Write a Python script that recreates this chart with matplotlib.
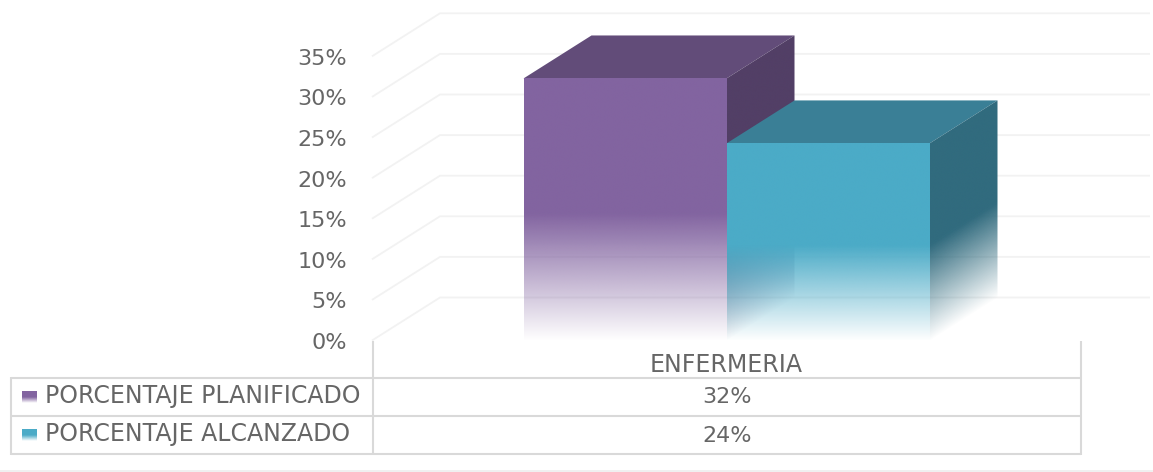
import numpy as np
import matplotlib
matplotlib.use("Agg")
import matplotlib.pyplot as plt
from matplotlib.patches import Polygon

# ---------- data ----------
categories = ["ENFERMERIA"]
series_names = ["PORCENTAJE PLANIFICADO", "PORCENTAJE ALCANZADO"]
planificado = [32]
alcanzado = [24]
y_ticks = [0, 5, 10, 15, 20, 25, 30, 35]

# ---------- styles ----------
W, H = 1153, 472
FONT = "DejaVu Sans"
TXT = "#666666"
GRID = "#F2F2F2"
TBL = "#D9D9D9"
PURPLE = {"front": "#8264A0", "top": "#624C79", "side": "#523F66"}
TEAL = {"front": "#4BABC7", "top": "#3A7F96", "side": "#316B7E"}

fig = plt.figure(figsize=(W / 100, H / 100), dpi=100, facecolor="white")

# Pixel-based layout axes (table, frame)
px = fig.add_axes([0, 0, 1, 1], zorder=1)
px.set_xlim(0, W)
px.set_ylim(H, 0)
px.axis("off")

# Chart axes: x in category units, y in percent
X0, X1 = 372.0, 1081.0          # front plane, px
Y0, PPV = 340.5, 8.12           # pixel of 0 %, px per percent
PPX = X1 - X0
ax = fig.add_axes([0, 0, 1, 1], zorder=2)
ax.patch.set_alpha(0)
ax.set_xlim((0 - X0) / PPX, (W - X0) / PPX)
ax.set_ylim((Y0 - H) / PPV, Y0 / PPV)
ax.axis("off")

DX = 68.0 / PPX
DY = 43.0 / PPV
SKEW = DY / DX
BAR_W = 203.0 / PPX
LIFT = 0.27
BASE = -0.1
FADE = 0.49


def rgb(c):
    return np.array(matplotlib.colors.to_rgb(c))


def face(a, corners, color, full, base=0.0, skew=0.0, x_ref=0.0, zorder=3):
    """Colour face whose opacity rises linearly from its base up to `full` above it."""
    pts = np.array(corners, dtype=float)
    xmin, ymin = pts.min(axis=0)
    xmax, ymax = pts.max(axis=0)
    xs = np.linspace(xmin, xmax, 300)
    ys = np.linspace(ymin, ymax, 500)
    gx, gy = np.meshgrid(xs, ys)
    v = gy - base - skew * (gx - x_ref)
    alpha = np.clip(v / full, 0, 1)
    img = np.zeros(gx.shape + (4,))
    img[..., :3] = rgb(color)
    img[..., 3] = alpha
    xl, yl = a.get_xlim(), a.get_ylim()
    im = a.imshow(img, extent=[xmin, xmax, ymin, ymax], origin="lower",
                  aspect="auto", interpolation="bilinear", zorder=zorder)
    im.set_clip_path(Polygon(pts, closed=True, transform=a.transData))
    a.set_xlim(xl)
    a.set_ylim(yl)


def bar3d(left, value, pal, z):
    top = value + LIFT
    right = left + BAR_W
    # top face
    ax.add_patch(Polygon([(left, top), (right, top), (right + DX, top + DY), (left + DX, top + DY)],
                         closed=True, fc=pal["top"], ec="none", zorder=z))
    # side face
    face(ax, [(right, BASE), (right + DX, BASE + DY), (right + DX, top + DY), (right, top)],
         pal["side"], FADE * value, base=BASE, skew=SKEW, x_ref=right, zorder=z)
    # front face
    face(ax, [(left, BASE), (right, BASE), (right, top), (left, top)],
         pal["front"], FADE * value, base=BASE, zorder=z + 0.1)


# Gridlines: floor-side diagonals and back wall
for t in y_ticks:
    ax.plot([0, DX, (1150 - X0) / PPX], [t, t + DY, t + DY], color=GRID, lw=1.3, zorder=1,
            solid_capstyle="butt", solid_joinstyle="miter")
    ax.text((347 - X0) / PPX, t - 0.3, f"{t}%", ha="right", va="center", color=TXT,
            fontsize=16, family=FONT, zorder=5)

# Bars
center = 0.5
bar3d(center - BAR_W, planificado[0], PURPLE, 3)
bar3d(center, alcanzado[0], TEAL, 4)

# Table frame
for y in (378, 416, 454):
    px.plot([11, 1081], [y, y], color=TBL, lw=1.5, solid_capstyle="butt")
px.plot([11, 11], [377, 455], color=TBL, lw=1.5, solid_capstyle="butt")
px.plot([373, 373], [341, 455], color=TBL, lw=1.5, solid_capstyle="butt")
px.plot([1081, 1081], [341, 455], color=TBL, lw=1.5, solid_capstyle="butt")
px.plot([0, W], [471, 471], color="#EDEDED", lw=1.2)

# Table text
TS = 17.0
VS = 16.0
ax.text(center, (Y0 - 365.5) / PPV, categories[0], ha="center", va="center", color=TXT, fontsize=TS, family=FONT, zorder=5)
px.text(727, 397, f"{planificado[0]}%", ha="center", va="center", color=TXT, fontsize=VS, family=FONT)
px.text(727, 436, f"{alcanzado[0]}%", ha="center", va="center", color=TXT, fontsize=VS, family=FONT)
px.text(45, 396, series_names[0], ha="left", va="center", color=TXT, fontsize=TS, family=FONT)
px.text(45, 434.5, series_names[1], ha="left", va="center", color=TXT, fontsize=TS, family=FONT)


# Legend keys with fade (pixel y is inverted, so use a dedicated small gradient)
def key(y0, color):
    y1 = y0 + 12
    grad = np.ones((40, 1, 4))
    grad[..., :3] = rgb(color)
    t = np.linspace(0, 1, 40)
    grad[:, 0, 3] = np.clip((1 - t) / 0.5, 0, 1)
    px.imshow(grad, extent=[22, 37, y1, y0], origin="upper", aspect="auto", zorder=3)
    px.set_xlim(0, W)
    px.set_ylim(H, 0)


key(391, PURPLE["front"])
key(429, TEAL["front"])

fig.savefig("out.png", dpi=100, facecolor="white")
